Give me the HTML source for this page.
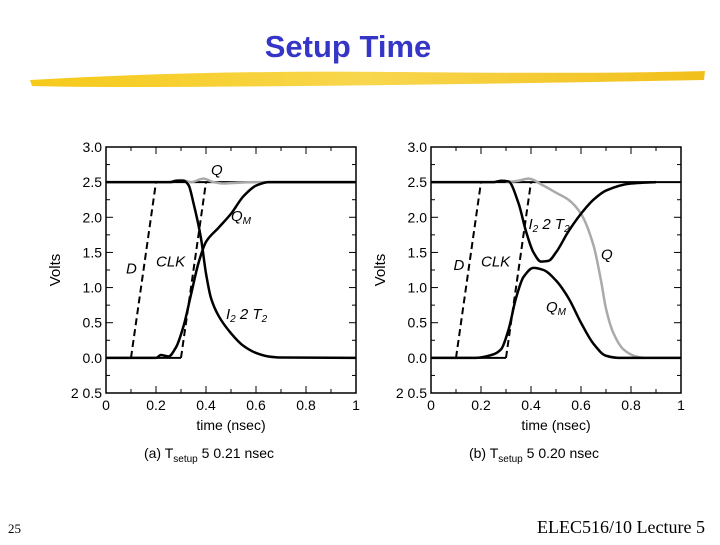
<!DOCTYPE html>
<html><head><meta charset="utf-8"><style>
body{margin:0;background:#fff;}
svg text{font-family:"Liberation Sans",sans-serif;}
</style></head><body>
<svg width="720" height="540" viewBox="0 0 720 540" id="s">
<defs><linearGradient id="yg" x1="0" x2="1"><stop offset="0" stop-color="#f5c400"/><stop offset="0.5" stop-color="#f7d23a"/><stop offset="1" stop-color="#f0b800"/></linearGradient></defs>
<text x="348" y="57" text-anchor="middle" font-size="31" font-weight="bold" fill="#3535c8">Setup Time</text>
<path d="M30 80 Q200 70 400 72 T705 71 L704 80 Q500 84 300 86 T32 86 Z" fill="url(#yg)" opacity="0.9"/>
<text x="8" y="533" font-size="13" style="font-family:'Liberation Serif',serif">25</text>
<text x="705" y="533" text-anchor="end" font-size="18" style="font-family:'Liberation Serif',serif">ELEC516/10 Lecture 5</text>
<g id="ca"></g>
<g id="cb"></g>
</svg>
<script>
const xTicks=["0","0.2","0.4","0.6","0.8","1"];
const yTicks=["2 0.5","0.0","0.5","1.0","1.5","2.0","2.5","3.0"];
const aI2T=[[0,2.5],[0.26,2.5],[0.28,2.52],[0.31,2.52],[0.33,2.46],[0.35,2.2],[0.38,1.7],[0.40,1.2],[0.42,0.85],[0.45,0.6],[0.5,0.35],[0.55,0.17],[0.6,0.07],[0.65,0.02],[0.7,0.005],[1,0]];
const aQM=[[0,0],[0.2,0],[0.22,0.04],[0.25,0.02],[0.28,0.15],[0.31,0.45],[0.34,0.9],[0.37,1.35],[0.40,1.65],[0.45,1.85],[0.5,2.05],[0.55,2.3],[0.6,2.45],[0.65,2.5],[1,2.5]];
const aQ=[[0.25,2.5],[0.3,2.53],[0.34,2.5],[0.39,2.55],[0.43,2.5],[0.47,2.48],[0.52,2.49],[0.6,2.5],[1,2.5]];
const bI2T=[[0,2.5],[0.25,2.5],[0.28,2.52],[0.31,2.51],[0.35,2.2],[0.38,1.8],[0.41,1.5],[0.44,1.37],[0.47,1.38],[0.5,1.5],[0.55,1.8],[0.6,2.05],[0.65,2.25],[0.7,2.38],[0.8,2.48],[0.9,2.5]];
const bQM=[[0,0],[0.18,0],[0.25,0.05],[0.28,0.12],[0.31,0.4],[0.34,0.85],[0.37,1.15],[0.41,1.28],[0.45,1.25],[0.5,1.1],[0.55,0.85],[0.6,0.5],[0.65,0.2],[0.7,0.03],[0.75,0],[1,0]];
const bQ=[[0.3,2.5],[0.35,2.52],[0.39,2.55],[0.45,2.45],[0.5,2.35],[0.55,2.25],[0.6,2.05],[0.65,1.6],[0.68,1.1],[0.7,0.7],[0.73,0.35],[0.77,0.12],[0.82,0.02],[0.85,0]];
const dEdge=[[0.1,0],[0.2,2.5]];
const clkEdge=[[0.3,0],[0.4,2.5]];
const NS="http://www.w3.org/2000/svg";
function mk(p,t,a){const e=document.createElementNS(NS,t);for(const k in a)e.setAttribute(k,a[k]);p.appendChild(e);return e;}
function smooth(pts,X,Y){
const n=pts.length,xs=pts.map(p=>X(p[0])),ys=pts.map(p=>Y(p[1]));
const d=[],m=[];for(let i=0;i<n-1;i++)d.push((ys[i+1]-ys[i])/(xs[i+1]-xs[i]));
for(let i=0;i<n;i++){if(i==0)m.push(d[0]);else if(i==n-1)m.push(d[n-2]);else if(d[i-1]*d[i]<=0)m.push(0);else{const h0=xs[i]-xs[i-1],h1=xs[i+1]-xs[i];m.push(3*(h0+h1)/((2*h1+h0)/d[i-1]+(h1+2*h0)/d[i]));}}
let s="M"+xs[0]+" "+ys[0];
for(let i=0;i<n-1;i++){const h=(xs[i+1]-xs[i])/3;s+=" C"+(xs[i]+h)+" "+(ys[i]+m[i]*h)+" "+(xs[i+1]-h)+" "+(ys[i+1]-m[i+1]*h)+" "+xs[i+1]+" "+ys[i+1];}
return s;}
function chart(g,x0,I2T,QM,Q,labels,cap){
const x1=x0+250,yT=147,yB=393;
const X=t=>x0+t*250, Y=v=>yB-(v+0.5)/3.5*(yB-yT);
let e;
e=mk(g,"rect",{x:x0,y:yT,width:250,height:yB-yT,fill:"none",stroke:"#000","stroke-width":1.5});

for(let i=0;i<=10;i++){const x=X(i/10),l=i%2?4:7;mk(g,"line",{x1:x,x2:x,y1:yB,y2:yB-l,stroke:"#000"});mk(g,"line",{x1:x,x2:x,y1:yT,y2:yT+l,stroke:"#000"});}
for(let i=0;i<=14;i++){const y=Y(-0.5+i*0.25),l=i%2?4:7;mk(g,"line",{x1:x0,x2:x0+l,y1:y,y2:y,stroke:"#000"});mk(g,"line",{x1:x1,x2:x1-l,y1:y,y2:y,stroke:"#000"});}
xTicks.forEach((s,i)=>{e=mk(g,"text",{x:X(i*0.2),y:yB+17,"text-anchor":"middle","font-size":14});e.textContent=s;
});
yTicks.forEach((s,i)=>{e=mk(g,"text",{x:x0-4,y:Y(-0.5+i*0.5)+5,"text-anchor":"end","font-size":14});e.textContent=s;
});
e=mk(g,"text",{x:x0+125,y:yB+37,"text-anchor":"middle","font-size":14});e.textContent="time (nsec)";

e=mk(g,"text",{x:0,y:0,"text-anchor":"middle","font-size":15,transform:"translate("+(x0-46)+","+Y(1.25)+") rotate(-90)"});e.textContent="Volts";

e=mk(g,"text",{x:x0+103,y:yB+65,"text-anchor":"middle","font-size":14});e.innerHTML=cap;

e=mk(g,"line",{x1:X(0),x2:X(1),y1:Y(2.5),y2:Y(2.5),stroke:"#000","stroke-width":2});

e=mk(g,"line",{x1:X(0),x2:X(clkEdge[0][0]),y1:Y(0),y2:Y(0),stroke:"#000","stroke-width":2});

e=mk(g,"path",{d:smooth(Q,X,Y),fill:"none",stroke:"#aaa","stroke-width":2.5});

e=mk(g,"path",{d:smooth(I2T,X,Y),fill:"none",stroke:"#000","stroke-width":2.5});

e=mk(g,"path",{d:smooth(QM,X,Y),fill:"none",stroke:"#000","stroke-width":2.5});

e=mk(g,"line",{x1:X(dEdge[0][0]),y1:Y(dEdge[0][1]),x2:X(dEdge[1][0]),y2:Y(dEdge[1][1]),stroke:"#000","stroke-width":2,"stroke-dasharray":"7,4"});

e=mk(g,"line",{x1:X(clkEdge[0][0]),y1:Y(clkEdge[0][1]),x2:X(clkEdge[1][0]),y2:Y(clkEdge[1][1]),stroke:"#000","stroke-width":2,"stroke-dasharray":"7,4"});

labels.forEach(l=>{e=mk(g,"text",{x:X(l[1]),y:Y(l[2]),"font-size":15,"font-style":"italic"});e.innerHTML=l[0];
});
}
chart(document.getElementById('ca'),106,aI2T,aQM,aQ,
[["D",0.08,1.2],["CLK",0.2,1.3],["Q",0.42,2.6],["Q<tspan font-size='10' dy='3'>M</tspan>",0.5,1.95],["I<tspan font-size='10' dy='3'>2</tspan><tspan dy='-3'> 2  T</tspan><tspan font-size='10' dy='3'>2</tspan>",0.48,0.55]],
"(a) T<tspan font-size='10' dy='4'>setup</tspan><tspan dy='-4'> 5  0.21 nsec</tspan>");
chart(document.getElementById('cb'),431,bI2T,bQM,bQ,
[["D",0.09,1.25],["CLK",0.2,1.3],["Q",0.68,1.4],["Q<tspan font-size='10' dy='3'>M</tspan>",0.46,0.65],["I<tspan font-size='10' dy='3'>2</tspan><tspan dy='-3'> 2  T</tspan><tspan font-size='10' dy='3'>2</tspan>",0.39,1.83]],
"(b) T<tspan font-size='10' dy='4'>setup</tspan><tspan dy='-4'> 5  0.20 nsec</tspan>");
</script>
</body></html>
